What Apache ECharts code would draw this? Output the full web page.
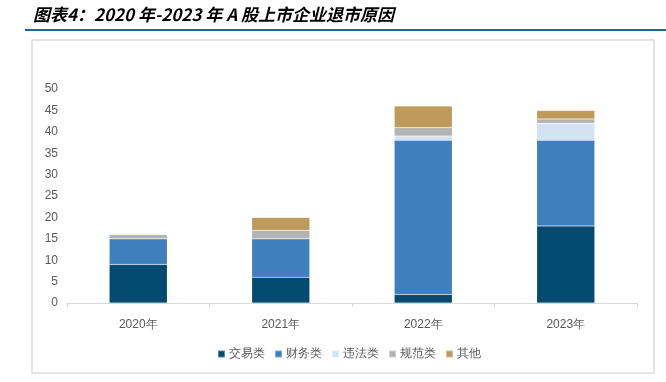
<!DOCTYPE html>
<html>
<head>
<meta charset="utf-8">
<script src="https://cdn.jsdelivr.net/npm/echarts@6/dist/echarts.min.js"></script>
<style>
  html, body { margin: 0; padding: 0; background: #fff; }
  #chart { width: 666px; height: 382px; }
</style>
</head>
<body>
<div id="chart"></div>
<script>
const years = ['2020年', '2021年', '2022年', '2023年'];
const seriesNames = ['交易类', '财务类', '违法类', '规范类', '其他'];
const trading = [9, 6, 2, 18];
const financial = [6, 9, 36, 20];
const illegal = [0, 0, 1, 4];
const standard = [1, 2, 2, 1];
const other = [0, 3, 5, 2];
const colors = ['#034a70', '#3f7fbd', '#d3e3f3', '#b3b3b3', '#be9b5b'];

const chart = echarts.init(document.getElementById('chart'));
const values = [trading, financial, illegal, standard, other];

chart.setOption({
  animation: false,
  title: {
    text: '图表4：2020 年-2023 年 A 股上市企业退市原因',
    left: 28,
    top: 1,
    textStyle: {
      fontFamily: 'Noto Sans CJK SC',
      fontSize: 17,
      fontWeight: 'bold',
      fontStyle: 'italic',
      color: '#000'
    }
  },
  graphic: [
    {
      type: 'rect',
      shape: { x: 25, y: 29, width: 660, height: 2 },
      style: { fill: '#1f6688' }
    },
    {
      type: 'rect',
      shape: { x: 32, y: 40, width: 622, height: 333 },
      style: { fill: 'none', stroke: '#dcdcdc', lineWidth: 1.5 }
    }
  ],
  legend: {
    bottom: 17,
    left: 212,
    itemWidth: 7,
    itemHeight: 7,
    itemGap: 9,
    icon: 'rect',
    textStyle: { color: '#595959', fontSize: 12, padding: [0, 0, 0, -1] },
    data: seriesNames
  },
  grid: { left: 67, right: 29, top: 89, bottom: 79 },
  xAxis: {
    type: 'category',
    data: years,
    axisLine: { lineStyle: { color: '#d9d9d9' } },
    axisTick: { show: true, length: 4, lineStyle: { color: '#d9d9d9' } },
    axisLabel: { color: '#595959', fontSize: 12, margin: 16 }
  },
  yAxis: {
    type: 'value',
    min: 0,
    max: 50,
    interval: 5,
    axisLine: { show: false },
    axisTick: { show: false },
    splitLine: { show: false },
    axisLabel: { color: '#595959', fontSize: 12, margin: 9 }
  },
  series: seriesNames.map((name, i) => ({
    name,
    type: 'bar',
    stack: 'total',
    barWidth: 58,
    data: values[i],
    itemStyle: { color: colors[i], borderColor: 'rgba(255,255,255,0.35)', borderWidth: 0.5 }
  }))
});
</script>
</body>
</html>
